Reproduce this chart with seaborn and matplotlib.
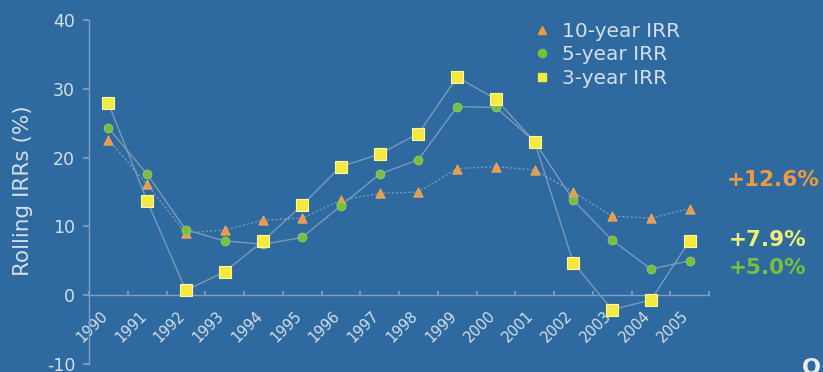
import numpy as np
import pandas as pd
import matplotlib
matplotlib.use("Agg")
import matplotlib.pyplot as plt
import matplotlib.transforms as mtransforms
from matplotlib.lines import Line2D
import seaborn as sns

# Vintage years and rolling IRRs (%)
years = ["1990", "1991", "1992", "1993", "1994", "1995", "1996", "1997",
         "1998", "1999", "2000", "2001", "2002", "2003", "2004", "2005"]
irr_10y = [22.6, 16.1, 9.0, 9.5, 10.9, 11.2, 13.8, 14.8,
           15.0, 18.4, 18.7, 18.2, 15.0, 11.5, 11.2, 12.6]
irr_5y = [24.3, 17.6, 9.5, 7.9, 7.4, 8.4, 13.0, 17.6,
          19.7, 27.4, 27.3, 22.3, 13.8, 8.0, 3.8, 5.0]
irr_3y = [27.9, 13.7, 0.7, 3.4, 7.9, 13.1, 18.7, 20.5,
          23.5, 31.7, 28.5, 22.3, 4.7, -2.1, -0.7, 7.9]
latest_labels = ["+12.6%", "+7.9%", "+5.0%"]

BG = "#2e6a9f"
LINE = "#86a3c0"
AXIS = "#7f9fc2"
TEXT = "#d3dee9"
ORANGE = "#ee9a3e"
GREEN = "#78bf3c"
YELLOW = "#f4ea3c"

sns.set_theme(style="white")
plt.rcParams["font.family"] = ["DejaVu Sans"]
plt.rcParams["axes.unicode_minus"] = False

fig = plt.figure(figsize=(8.23, 3.72), dpi=100, facecolor=BG)
ax = fig.add_axes([89 / 823, 8 / 372, 620 / 823, 344 / 372], facecolor=BG)

idx = np.arange(len(years))
df = pd.DataFrame({"pos": idx, "y10": irr_10y, "y5": irr_5y, "y3": irr_3y})

# connecting lines
sns.lineplot(data=df, x="pos", y="y10", ax=ax, color=LINE, lw=1.0,
             linestyle=(0, (1.5, 1.5)), alpha=0.85)
sns.lineplot(data=df, x="pos", y="y5", ax=ax, color=LINE, lw=1.0, alpha=0.85)
sns.lineplot(data=df, x="pos", y="y3", ax=ax, color=LINE, lw=1.0, alpha=0.85)

# markers
sns.scatterplot(data=df, x="pos", y="y10", ax=ax, marker="^", s=45,
                color=ORANGE, edgecolor="#f3b060", linewidth=0.6, zorder=4)
sns.scatterplot(data=df, x="pos", y="y5", ax=ax, marker="o", s=40,
                color=GREEN, edgecolor="#9bd060", linewidth=0.6, zorder=5)
sns.scatterplot(data=df, x="pos", y="y3", ax=ax, marker="s", s=70,
                color=YELLOW, edgecolor="#fff6a0", linewidth=0.8, zorder=6)

ax.set_xlim(-0.5, len(years) - 0.5)
ax.set_ylim(-10, 40)
ax.set_yticks([-10, 0, 10, 20, 30, 40])

ax.spines["top"].set_visible(False)
ax.spines["right"].set_visible(False)
ax.spines["bottom"].set_position(("data", 0))
ax.spines["bottom"].set_color(AXIS)
ax.spines["left"].set_color(AXIS)
ax.spines["bottom"].set_linewidth(1.0)
ax.spines["left"].set_linewidth(1.0)
ax.tick_params(axis="y", direction="out", length=4, color=AXIS, pad=6,
               left=True, labelsize=12.5, labelcolor=TEXT)
ax.tick_params(axis="x", direction="in", length=3, color=AXIS, pad=2,
               bottom=True, labelsize=10.5, labelcolor=TEXT)

# category boundaries as ticks, year labels hanging from them
ax.set_xticks(np.arange(len(years) + 1) - 0.5)
ax.set_xticklabels(years + [""], rotation=45, ha="right", va="top",
                   rotation_mode="anchor")
offset = mtransforms.ScaledTranslation(11 / 100, -10 / 100, fig.dpi_scale_trans)
for lab in ax.xaxis.get_majorticklabels():
    lab.set_transform(lab.get_transform() + offset)

ax.set_xlabel("")
ax.set_ylabel("Rolling IRRs (%)", fontsize=15.5, color=TEXT)
ax.yaxis.set_label_coords(-56 / 620, 0.503)

# legend with markers only
handles = [
    Line2D([], [], linestyle="none", marker="^", markersize=6, color=ORANGE),
    Line2D([], [], linestyle="none", marker="o", markersize=6, color=GREEN),
    Line2D([], [], linestyle="none", marker="s", markersize=6, color=YELLOW),
]
leg = fig.legend(handles, ["10-year IRR", "5-year IRR", "3-year IRR"],
                 loc="upper left", bbox_to_anchor=(535 / 823, 1 - 22 / 372),
                 frameon=False, fontsize=14.5, handlelength=0.7,
                 handletextpad=0.65, labelspacing=0.22, borderaxespad=0,
                 borderpad=0)
for t in leg.get_texts():
    t.set_color(TEXT)

# latest-vintage callouts
fig.text(727 / 823, 1 - 180 / 372, latest_labels[0], color=ORANGE,
         fontsize=15.5, fontweight="bold", va="center", ha="left")
fig.text(729 / 823, 1 - 240 / 372, latest_labels[1], color="#eef070",
         fontsize=15.5, fontweight="bold", va="center", ha="left")
fig.text(729 / 823, 1 - 268 / 372, latest_labels[2], color=GREEN,
         fontsize=15.5, fontweight="bold", va="center", ha="left")

fig.text(802 / 823, -6 / 372, "O", color="#e8eef4", fontsize=16,
         fontweight="bold", ha="left", va="bottom")

fig.savefig("out.png", dpi=100, facecolor=BG)
